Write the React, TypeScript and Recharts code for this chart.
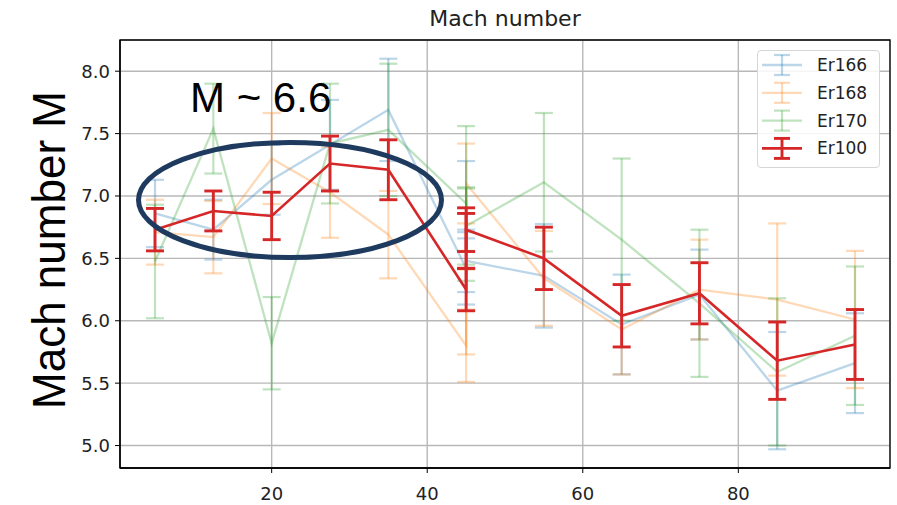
import React from "react";
import {
  LineChart,
  Line,
  XAxis,
  YAxis,
  CartesianGrid,
  ErrorBar,
  Legend,
  ReferenceArea,
} from "recharts";

const WIDTH = 897;
const HEIGHT = 505;

// bin centres; the 40-50 bin holds three samples per isotope
const binCenters = [5, 12.5, 20, 27.5, 35, 45, 45, 45, 55, 65, 75, 85, 95];

const er166Mach = [6.86, 6.73, 7.13, 7.41, 7.69, 6.42, 6.97, 6.48, 6.36, 5.97, 6.21, 5.44, 5.66];
const er166Err = [0.27, 0.24, 0.28, 0.36, 0.41, 0.29, 0.31, 0.25, 0.415, 0.4, 0.36, 0.47, 0.4];

const er168Mach = [6.71, 6.67, 7.3, 7.03, 6.69, 5.8, 6.07, 7.1, 6.34, 5.93, 6.25, 6.17, 6.01];
const er168Err = [0.26, 0.29, 0.365, 0.365, 0.35, 0.29, 0.34, 0.32, 0.38, 0.36, 0.4, 0.61, 0.55];

const er170Mach = [6.475, 7.54, 5.82, 7.42, 7.53, 6.94, 6.81, 6.76, 7.11, 6.65, 6.14, 5.59, 5.88];
const er170Err = [0.455, 0.36, 0.37, 0.48, 0.53, 0.62, 0.25, 0.31, 0.555, 0.65, 0.59, 0.59, 0.555];

const er100Mach = [6.73, 6.88, 6.84, 7.26, 7.21, 6.25, 6.64, 6.73, 6.5, 6.04, 6.22, 5.68, 5.81];
const er100Err = [0.17, 0.16, 0.19, 0.22, 0.24, 0.17, 0.22, 0.175, 0.25, 0.25, 0.245, 0.31, 0.28];

const xTicks = [20, 40, 60, 80];
const yTicks = [5.0, 5.5, 6.0, 6.5, 7.0, 7.5, 8.0];
const xDomain: [number, number] = [0.5, 99.5];
const yDomain: [number, number] = [4.82, 8.25];

interface Series {
  name: string;
  values: number[];
  errors: number[];
  color: string;
  lineWidth: number;
  barWidth: number;
}

const seriesList: Series[] = [
  { name: "Er166", values: er166Mach, errors: er166Err, color: "rgba(31,119,180,0.3)", lineWidth: 2.3, barWidth: 2.2 },
  { name: "Er168", values: er168Mach, errors: er168Err, color: "rgba(255,127,14,0.3)", lineWidth: 2.3, barWidth: 2.2 },
  { name: "Er170", values: er170Mach, errors: er170Err, color: "rgba(44,160,44,0.3)", lineWidth: 2.3, barWidth: 2.2 },
  { name: "Er100", values: er100Mach, errors: er100Err, color: "#d62728", lineWidth: 2.6, barWidth: 2.9 },
];

const toRows = (s: Series) =>
  binCenters.map((x, i) => ({ x, mach: s.values[i], err: s.errors[i] }));

const tickFont = { fill: "#222", fontSize: 18, fontFamily: "DejaVu Sans" };

function LegendBox() {
  return (
    <div
      style={{
        width: 123,
        height: 118,
        boxSizing: "border-box",
        border: "1px solid #d6d6d6",
        borderRadius: 4,
        background: "rgba(255,255,255,0.85)",
      }}
    >
      <svg width={121} height={116} style={{ display: "block" }}>
        {seriesList.map((s, i) => {
          const cy = 14 + i * 27.8;
          return (
            <g key={s.name} stroke={s.color}>
              <line x1={4} x2={44} y1={cy} y2={cy} strokeWidth={s.lineWidth} />
              <line x1={24} x2={24} y1={cy - 10} y2={cy + 10} strokeWidth={s.barWidth} />
              <line x1={16} x2={32} y1={cy - 10} y2={cy - 10} strokeWidth={s.barWidth} />
              <line x1={16} x2={32} y1={cy + 10} y2={cy + 10} strokeWidth={s.barWidth} />
              <text
                x={59}
                y={cy + 6}
                stroke="none"
                fill="#222"
                fontSize={17}
                fontFamily="DejaVu Sans"
              >
                {s.name}
              </text>
            </g>
          );
        })}
      </svg>
    </div>
  );
}

export default function App() {
  return (
    <div style={{ position: "absolute", left: 0, top: 0, width: WIDTH, height: HEIGHT, background: "#fff" }}>
      <LineChart width={WIDTH} height={HEIGHT} margin={{ top: 40, right: 7, bottom: 0, left: 0 }}>
        <CartesianGrid stroke="#b8b8b8" strokeWidth={1.4} />
        <XAxis
          type="number"
          dataKey="x"
          domain={xDomain}
          ticks={xTicks}
          allowDataOverflow
          height={37}
          tick={tickFont}
          tickSize={5}
          tickMargin={14}
          tickLine={{ stroke: "#000" }}
          axisLine={{ stroke: "#000", strokeWidth: 1.3 }}
        />
        <YAxis
          type="number"
          domain={yDomain}
          ticks={yTicks}
          allowDataOverflow
          width={120}
          tick={tickFont}
          tickSize={5}
          tickMargin={5}
          tickLine={{ stroke: "#000" }}
          axisLine={{ stroke: "#000", strokeWidth: 1.3 }}
          tickFormatter={(v: number) => v.toFixed(1)}
        />
        <ReferenceArea
          x1={xDomain[0]}
          x2={xDomain[1]}
          y1={yDomain[0]}
          y2={yDomain[1]}
          fill="none"
          fillOpacity={0}
          stroke="#000"
          strokeWidth={1.3}
          ifOverflow="visible"
        />
        {seriesList.map((s) => (
          <Line
            key={s.name}
            name={s.name}
            data={toRows(s)}
            dataKey="mach"
            type="linear"
            stroke={s.color}
            strokeWidth={s.lineWidth}
            dot={false}
            activeDot={false}
            isAnimationActive={false}
          >
            <ErrorBar
              dataKey="err"
              direction="y"
              width={9}
              stroke={s.color}
              strokeWidth={s.barWidth}
              isAnimationActive={false}
            />
          </Line>
        ))}
        <Legend
          layout="vertical"
          align="center"
          verticalAlign="middle"
          wrapperStyle={{ left: 757, top: 50, width: 123, height: 118 }}
          content={() => <LegendBox />}
        />
      </LineChart>

      <svg
        width={WIDTH}
        height={HEIGHT}
        style={{ position: "absolute", left: 0, top: 0, pointerEvents: "none" }}
      >
        <text x={505} y={26} textAnchor="middle" fontSize={22} fontFamily="DejaVu Sans" fill="#222">
          Mach number
        </text>
        <text
          x={65}
          y={250}
          transform="rotate(-90 65 250)"
          textAnchor="middle"
          fontSize={46}
          fontFamily="Liberation Sans"
          textLength={318}
          lengthAdjust="spacingAndGlyphs"
          fill="#000"
        >
          Mach number M
        </text>
        <ellipse cx={290} cy={200} rx={151.5} ry={57.5} fill="none" stroke="#1f3a5f" strokeWidth={5} />
        <text x={190} y={112} fontSize={42} fontFamily="Liberation Sans" fill="#000">
          M ~ 6.6
        </text>
      </svg>
    </div>
  );
}
